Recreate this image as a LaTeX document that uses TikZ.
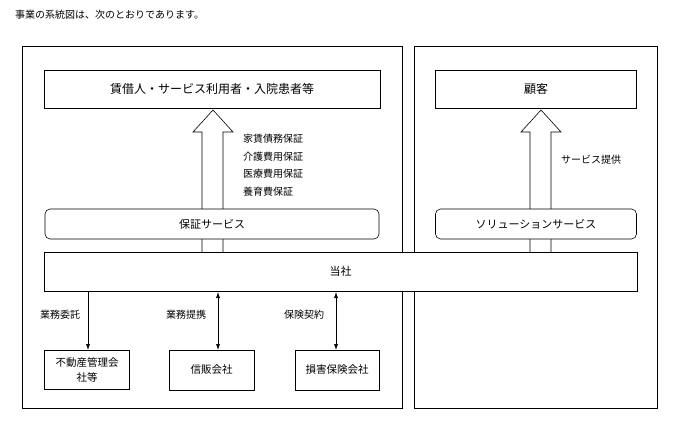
\documentclass[tikz,border=0pt]{standalone}
\usepackage{fontspec}
\setmainfont{Noto Sans CJK JP}
\usetikzlibrary{arrows.meta,shapes.arrows}
\begin{document}
\begin{tikzpicture}[x=1pt,y=-1pt,
 box/.style={draw,line width=0.6pt,inner sep=0pt,font=\fontsize{11}{14}\selectfont},
 lbl/.style={inner sep=0pt,font=\fontsize{10}{12}\selectfont},
 arr/.style={line width=0.6pt,-{Latex[length=6pt,width=4pt]}},
 darr/.style={line width=0.6pt,{Latex[length=6pt,width=4pt]}-{Latex[length=6pt,width=4pt]}}]
\useasboundingbox (0,0) rectangle (692,420);
\node[lbl,anchor=west] (title) at (15,15) {事業の系統図は、次のとおりであります。};
\draw[line width=0.6pt] (22,46) rectangle (402,408);
\draw[line width=0.6pt] (414,46) rectangle (657,408);
\node[box,minimum width=336pt,minimum height=38pt,font=\fontsize{12}{14}\selectfont] (cust1) at (212,89) {賃借人・サービス利用者・入院患者等};
\node[box,minimum width=201pt,minimum height=38pt,font=\fontsize{12}{14}\selectfont] (cust2) at (536,89) {顧客};
% hollow arrows
\draw[line width=0.6pt,fill=white] (202,252) -- (202,132) -- (193,132) -- (213,110) -- (233,132) -- (223,132) -- (223,252);
\draw[line width=0.6pt,fill=white] (530,252) -- (530,132) -- (521,132) -- (541,110) -- (561,132) -- (551,132) -- (551,252);
\node[box,rounded corners=5pt,fill=white,minimum width=334pt,minimum height=30pt] (hosho) at (212,224) {保証サービス};
\node[box,rounded corners=5pt,fill=white,minimum width=201pt,minimum height=30pt] (sol) at (536,224) {ソリューションサービス};
\node[lbl,anchor=north west,align=left,font=\fontsize{10}{17.5}\selectfont] (svc) at (243,134) {家賃債務保証\\介護費用保証\\医療費用保証\\養育費保証};
\node[lbl,anchor=west] (teikyo) at (561,160) {サービス提供};
\node[box,fill=white,minimum width=593pt,minimum height=39pt] (tosha) at (340.5,271.5) {当社};
\node[box,minimum width=85pt,minimum height=39pt,align=center,font=\fontsize{10.5}{15}\selectfont] (fudo) at (87,370) {不動産管理会\\社等};
\node[box,minimum width=85pt,minimum height=40pt,font=\fontsize{10.5}{13}\selectfont] (shinpan) at (211.5,370) {信販会社};
\node[box,minimum width=84pt,minimum height=40pt,font=\fontsize{10.5}{13}\selectfont] (songai) at (337,370) {損害保険会社};
\draw[arr] (tosha.south -| 88,0) -- (88,350);
\draw[darr] (218,292) -- (218,350);
\draw[darr] (336,292) -- (336,350);
\node[lbl] (l1) at (60,315) {業務委託};
\node[lbl] (l2) at (186,315) {業務提携};
\node[lbl] (l3) at (304,315) {保険契約};
\end{tikzpicture}
\end{document}
